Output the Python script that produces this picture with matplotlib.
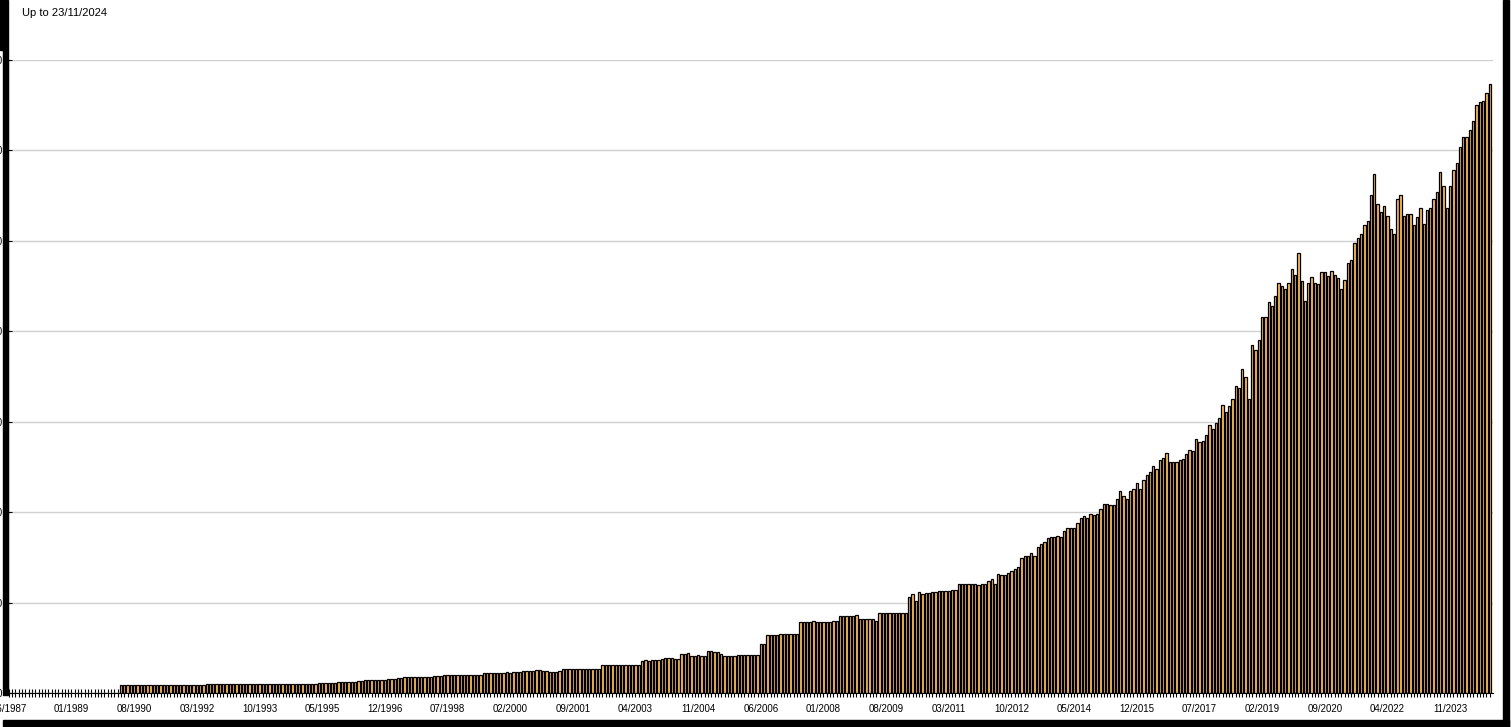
"""
月度数量柱状图 (06/1987 - 11/2024)
"""

import matplotlib
matplotlib.use("Agg")
import matplotlib.pyplot as plt
from matplotlib.patches import Rectangle
from matplotlib.ticker import MultipleLocator
import numpy as np
import pandas as pd

# 月份
months = pd.period_range("1987-06", "2024-11", freq="M")

counts_1987_1996 = [
    0, 0, 0, 0, 0, 0, 0,                                  # 1987 (Jun-Dec)
    0, 0, 0, 0, 0, 0, 0, 0, 0, 0, 0, 0,                   # 1988
    0, 0, 0, 0, 0, 0, 0, 0, 0, 0, 0, 0,                   # 1989
    0, 0, 0, 9, 9, 9, 9, 9, 9, 9, 9, 9,                   # 1990
    9, 9, 9, 9, 9, 9, 9, 9, 9, 9, 9, 9,                   # 1991
    9, 9, 9, 9, 9, 10, 10, 10, 10, 10, 10, 10,            # 1992
    10, 10, 10, 10, 10, 10, 10, 10, 10, 10, 10, 10,       # 1993
    10, 10, 10, 10, 10, 10, 10, 10, 10, 10, 10, 10,       # 1994
    10, 10, 10, 11, 11, 11, 11, 11, 11, 12, 12, 12,       # 1995
    12, 12, 12, 13, 13, 14, 14, 14, 14, 14, 14, 14,       # 1996
]

counts_1997_2006 = [
    15, 15, 15, 17, 17, 18, 18, 18, 18, 18, 18, 18,       # 1997
    18, 18, 19, 19, 19, 20, 20, 20, 20, 20, 20, 20,       # 1998
    20, 20, 20, 20, 20, 22, 22, 22, 22, 22, 22, 22,       # 1999
    23, 22, 23, 23, 23, 24, 24, 24, 24, 25, 25, 24,       # 2000
    24, 23, 23, 23, 24, 27, 27, 27, 27, 27, 27, 27,       # 2001
    27, 27, 27, 27, 27, 31, 31, 31, 31, 31, 31, 31,       # 2002
    31, 31, 31, 31, 31, 35, 36, 35, 36, 37, 36, 38,       # 2003
    39, 39, 39, 38, 38, 43, 43, 44, 41, 41, 42, 41,       # 2004
    41, 46, 46, 45, 45, 43, 41, 41, 41, 41, 42, 42,       # 2005
    42, 42, 42, 42, 42, 54, 54, 64, 64, 64, 64, 65,       # 2006
]

counts_2007_2016 = [
    65, 65, 65, 65, 65, 79, 79, 79, 79, 80, 79, 79,       # 2007
    79, 79, 79, 80, 80, 85, 85, 85, 85, 85, 86, 82,       # 2008
    82, 82, 82, 82, 80, 88, 88, 88, 88, 88, 88, 88,       # 2009
    88, 89, 106, 109, 102, 112, 110, 111, 111, 112, 112, 113,   # 2010
    113, 113, 113, 114, 114, 120, 120, 121, 121, 121, 120, 119,  # 2011
    120, 120, 124, 126, 121, 132, 130, 130, 133, 135, 137, 139,  # 2012
    149, 151, 152, 155, 152, 161, 165, 167, 171, 173, 173, 174,  # 2013
    173, 179, 182, 183, 183, 188, 193, 196, 194, 198, 197, 198,  # 2014
    203, 209, 209, 208, 208, 215, 223, 218, 215, 223, 226, 232,  # 2015
    226, 236, 241, 244, 251, 248, 258, 260, 265, 256, 255, 256,  # 2016
]

counts_2017_2024 = [
    258, 259, 264, 269, 268, 281, 278, 279, 285, 296, 292, 299,  # 2017
    304, 319, 311, 317, 325, 339, 337, 358, 350, 325, 385, 379,  # 2018
    390, 416, 416, 432, 428, 439, 453, 450, 447, 453, 469, 462,  # 2019
    487, 456, 434, 453, 460, 453, 452, 466, 466, 461, 467, 462,  # 2020
    459, 447, 457, 475, 479, 498, 503, 508, 517, 522, 551, 574,  # 2021
    541, 532, 538, 528, 513, 508, 546, 551, 528, 530, 530, 517,  # 2022
    526, 536, 519, 534, 536, 546, 554, 576, 561, 536, 561, 578,  # 2023
    586, 604, 615, 615, 623, 632, 650, 654, 655, 664, 674,       # 2024 (Jan-Nov)
]

counts = counts_1987_1996 + counts_1997_2006 + counts_2007_2016 + counts_2017_2024
x = np.arange(len(months))
label_step = 19  # 每19个月一个标签
tick_labels = [m.strftime("%m/%Y") for m in months[::label_step]]

plt.rcParams["font.family"] = ["Liberation Sans", "DejaVu Sans"]

W, H = 1511, 727
fig = plt.figure(figsize=(W / 100, H / 100), dpi=100)
ax = fig.add_axes([8 / W, (H - 693) / H, (1493 - 8) / W, (693 - 60) / H])

ax.bar(x, counts, width=0.7, color="#ffbf5c", edgecolor="black", linewidth=0.9, zorder=2)

ax.set_xlim(-0.25, 450)
ax.set_ylim(0, 700)
ax.yaxis.set_major_locator(MultipleLocator(100))
ax.grid(axis="y", color="#d0d0d0", linewidth=1.0)
ax.set_axisbelow(True)

ax.spines["top"].set_visible(False)
ax.spines["right"].set_visible(False)
ax.spines["left"].set_linewidth(0.8)
ax.spines["bottom"].set_linewidth(0.8)

ax.set_xticks(x[::label_step])
ax.set_xticklabels(tick_labels)
ax.set_xticks(x, minor=True)
ax.tick_params(axis="x", which="both", direction="inout", length=6, width=0.8, pad=5, labelsize=7)
ax.tick_params(axis="y", direction="in", length=3, width=0.8, pad=4, labelsize=7)

fig.text(22 / W, 1 - 13 / H, "Up to 23/11/2024", fontsize=8, va="center", ha="left")

# 黑色边框
frame = [
    (3, 0, 4.5, 695),     # 左
    (0, 0, 3, 50),
    (1503, 0, 6, 727),    # 右
    (3, 720, 1506, 7),    # 下
]
for px, py, pw, ph in frame:
    fig.add_artist(Rectangle((px / W, 1 - (py + ph) / H), pw / W, ph / H,
                             transform=fig.transFigure, color="black", zorder=10))

fig.savefig("out.png", dpi=100)
